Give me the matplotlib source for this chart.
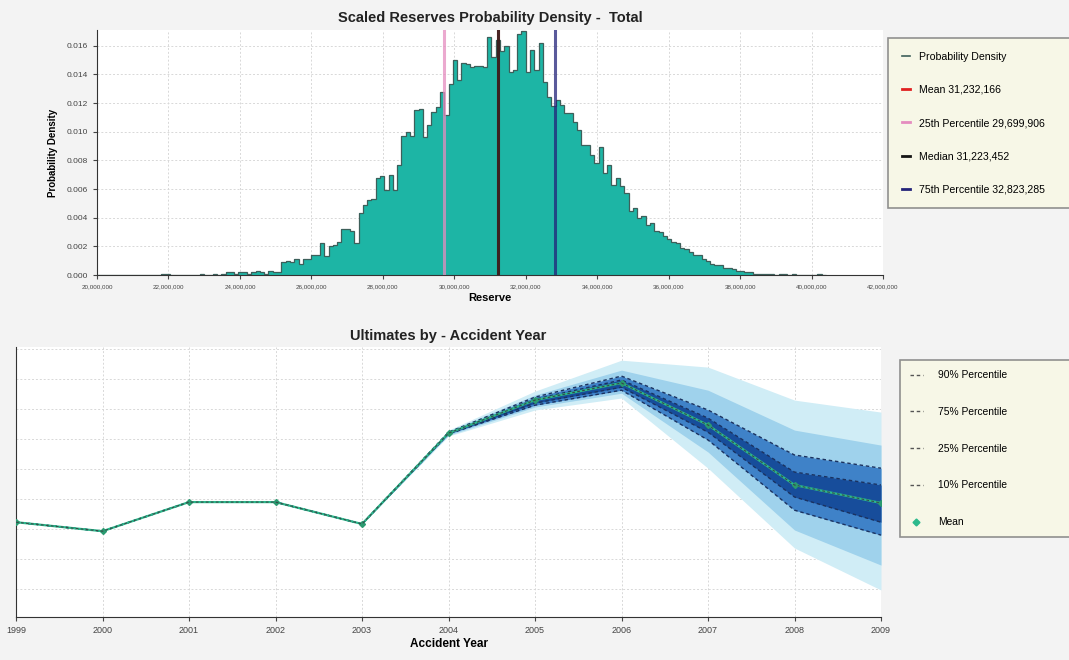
import numpy as np
import matplotlib
matplotlib.use("Agg")
import matplotlib.pyplot as plt
from matplotlib.lines import Line2D
from matplotlib.ticker import FuncFormatter

plt.rcParams['font.family'] = ['Liberation Sans', 'DejaVu Sans']

# ---- top chart data: reserve histogram (bins of 120,000 starting at 20,000,000)
bin_start = 20_000_000
bin_width = 120_000
density = [
    0, 0, 0, 0, 0, 0, 0, 0, 0, 0,
    0, 0, 0, 0, 0, 0.0001, 0.0001, 0, 0, 0,
    0, 0, 0, 0, 0.0001, 0, 0, 0.0001, 0, 0.0001,
    0.0002, 0.0002, 0.0001, 0.0002, 0.0002, 0.0001, 0.0002, 0.0003, 0.0002, 0.0001,
    0.0003, 0.0002, 0.0002, 0.0009, 0.0010, 0.0009, 0.0011, 0.0008, 0.0011, 0.0011,
    0.0014, 0.0014, 0.0022, 0.0013, 0.0020, 0.0021, 0.0023, 0.0032, 0.0032, 0.0031,
    0.0022, 0.0043, 0.0049, 0.0052, 0.0053, 0.0068, 0.0069, 0.0059, 0.0070, 0.0059,
    0.0077, 0.0097, 0.0100, 0.0097, 0.0115, 0.0116, 0.0096, 0.0105, 0.0114, 0.0117,
    0.0128, 0.0112, 0.0133, 0.0150, 0.0136, 0.0148, 0.0147, 0.0145, 0.0146, 0.0146,
    0.0145, 0.0166, 0.0152, 0.0164, 0.0156, 0.0160, 0.0142, 0.0143, 0.0168, 0.0170,
    0.0142, 0.0157, 0.0143, 0.0162, 0.0135, 0.0124, 0.0118, 0.0122, 0.0119, 0.0113,
    0.0113, 0.0107, 0.0101, 0.0091, 0.0091, 0.0084, 0.0078, 0.0089, 0.0071, 0.0077,
    0.0063, 0.0068, 0.0062, 0.0057, 0.0045, 0.0047, 0.0040, 0.0041, 0.0035, 0.0036,
    0.0031, 0.0030, 0.0027, 0.0025, 0.0023, 0.0022, 0.0019, 0.0018, 0.0016, 0.0014,
    0.0014, 0.0011, 0.0010, 0.0008, 0.0007, 0.0007, 0.0005, 0.0005, 0.0004, 0.0003,
    0.0003, 0.0002, 0.0002, 0.0001, 0.0001, 0.0001, 0.0001, 0.0001, 0.0000, 0.0001,
    0.0001, 0.0000, 0.0001, 0, 0, 0, 0, 0, 0.0001, 0,
]
stat_names = ["Mean", "25th Percentile", "Median", "75th Percentile"]
stat_values = [31_232_166, 29_699_906, 31_223_452, 32_823_285]
stat_colors = ["#e02020", "#e58cbf", "#151515", "#23237a"]

# ---- bottom chart data: ultimates by accident year (axis units, labels not shown)
years = [1999, 2000, 2001, 2002, 2003, 2004, 2005, 2006, 2007, 2008, 2009]
mean_ult = [3.23, 2.93, 3.90, 3.90, 3.17, 6.20, 7.30, 7.87, 6.47, 4.47, 3.87]
p01 = [3.23, 2.93, 3.90, 3.90, 3.17, 6.10, 6.97, 7.37, 5.03, 2.37, 0.97]
p05 = [3.23, 2.93, 3.90, 3.90, 3.17, 6.13, 7.07, 7.53, 5.57, 2.97, 1.80]
p10 = [3.23, 2.93, 3.90, 3.90, 3.17, 6.17, 7.13, 7.63, 5.97, 3.63, 2.80]
p25 = [3.23, 2.93, 3.90, 3.90, 3.17, 6.18, 7.20, 7.73, 6.23, 4.07, 3.23]
p75 = [3.23, 2.93, 3.90, 3.90, 3.17, 6.22, 7.33, 7.97, 6.70, 4.90, 4.47]
p90 = [3.23, 2.93, 3.90, 3.90, 3.17, 6.23, 7.40, 8.10, 6.97, 5.47, 5.03]
p95 = [3.23, 2.93, 3.90, 3.90, 3.17, 6.27, 7.47, 8.30, 7.63, 6.30, 5.80]
p99 = [3.23, 2.93, 3.90, 3.90, 3.17, 6.30, 7.60, 8.63, 8.40, 7.30, 6.90]

W, H = 1069, 660
fig = plt.figure(figsize=(W / 100, H / 100), dpi=100, facecolor="#f3f3f3")

def frac(x0, y0, x1, y1):
    # pixel box -> figure fraction rect
    return [x0 / W, 1 - y1 / H, (x1 - x0) / W, (y1 - y0) / H]

# ================= top: probability density =================
ax1 = fig.add_axes(frac(97, 30, 883, 275))
ax1.set_facecolor("white")
edges = bin_start + bin_width * np.arange(len(density) + 1)
ax1.stairs(density, edges, fill=True, color="#1db5a5", zorder=2)
ax1.stairs(density, edges, color="#3d5f5a", lw=0.9, zorder=3)
for v, c in zip(stat_values, stat_colors):
    ax1.axvline(v, color=c, lw=2.2, alpha=0.75, zorder=4)

ax1.set_xlim(20_000_000, 42_000_000)
ax1.set_ylim(0, 0.0171)
ax1.set_xticks(np.arange(20_000_000, 42_000_001, 2_000_000))
ax1.set_yticks(np.arange(0, 0.0161, 0.002))
ax1.xaxis.set_major_formatter(FuncFormatter(lambda v, p: f"{v:,.0f}"))
ax1.yaxis.set_major_formatter(FuncFormatter(lambda v, p: f"{v:.3f}"))
ax1.tick_params(axis="x", labelsize=4.5, length=3, colors="#444444")
ax1.tick_params(axis="y", labelsize=6, length=3, colors="#444444")
ax1.grid(True, color="#d8d8d8", ls=(0, (2, 2)), lw=0.7, zorder=0)
ax1.set_axisbelow(True)
for s in ["top", "right"]:
    ax1.spines[s].set_visible(False)
for s in ["left", "bottom"]:
    ax1.spines[s].set_color("#333333")
ax1.set_title("Scaled Reserves Probability Density -  Total", fontsize=10.5,
              fontweight="bold", color="#222222", pad=6)
ax1.set_xlabel("Reserve", fontsize=8, fontweight="bold", labelpad=3)
ax1.set_ylabel("Probability Density", fontsize=7, fontweight="bold", labelpad=6)

top_handles = [Line2D([], [], color="#3d5f5a", lw=1.2)] + \
    [Line2D([], [], color=c, lw=2) for c in stat_colors]
top_labels = ["Probability Density"] + \
    [f"{n} {v:,}" for n, v in zip(stat_names, stat_values)]
leg1 = fig.legend(top_handles, top_labels, loc="upper left",
                  bbox_to_anchor=(888 / W, 1 - 205 / H, 195 / W, 167 / H),
                  mode="expand", fontsize=7.6,
                  frameon=True, fancybox=False, facecolor="#f9f9e4",
                  edgecolor="#777777", labelspacing=2.2, handlelength=0.8,
                  handletextpad=0.8, borderpad=1.3, borderaxespad=0)
leg1.get_frame().set_linewidth(1.2)

# ================= bottom: ultimates fan chart =================
ax2 = fig.add_axes(frac(16, 347, 881, 617))
ax2.set_facecolor("white")
ax2.fill_between(years, p01, p99, color="#d0edf6", lw=0, zorder=1)
ax2.fill_between(years, p05, p95, color="#9fd2ec", lw=0, zorder=2)
ax2.fill_between(years, p10, p90, color="#3f82c8", lw=0, zorder=3)
ax2.fill_between(years, p25, p75, color="#174d9b", lw=0, zorder=4)
for p in [p90, p75, p25, p10]:
    ax2.plot(years, p, color="#1b3260", lw=1.0, ls=(0, (2.5, 2)), zorder=5)
ax2.plot(years, mean_ult, color="#2cb98c", lw=1.6, marker="D", ms=3,
         mfc="#2a9a70", mec="#2a9a70", zorder=6)
ax2.plot(years, mean_ult, color="#374a48", lw=0.8, ls=(0, (2.5, 2)), zorder=7)

ax2.set_xlim(1999, 2009)
ax2.set_ylim(0.07, 9.07)
ax2.set_xticks(years)
ax2.set_yticks(range(1, 10))
ax2.set_yticklabels([])
ax2.tick_params(axis="x", labelsize=6.5, length=3, colors="#444444")
ax2.tick_params(axis="y", length=0)
ax2.grid(True, color="#d8d8d8", ls=(0, (2, 2)), lw=0.7, zorder=0)
ax2.set_axisbelow(True)
for s in ["top", "right"]:
    ax2.spines[s].set_visible(False)
for s in ["left", "bottom"]:
    ax2.spines[s].set_color("#333333")
ax2.set_title("Ultimates by - Accident Year", fontsize=10.5, fontweight="bold",
              color="#222222", pad=5)
ax2.set_xlabel("Accident Year", fontsize=8.5, fontweight="bold", labelpad=2)

bot_handles = [Line2D([], [], color="#555555", lw=1, ls=(0, (2.5, 2)))
               for _ in range(4)] + \
    [Line2D([], [], color="none", marker="D", ms=3.5, mfc="#2cb98c", mec="#2cb98c")]
bot_labels = ["90% Percentile", "75% Percentile", "25% Percentile",
              "10% Percentile", "Mean"]
leg2 = fig.legend(bot_handles, bot_labels, loc="upper left",
                  bbox_to_anchor=(900 / W, 1 - 538 / H, 180 / W, 178 / H),
                  mode="expand", fontsize=7.4,
                  frameon=True, fancybox=False, facecolor="#f9f9e4",
                  edgecolor="#777777", labelspacing=2.6, handlelength=1.2,
                  handletextpad=1.5, borderpad=1.0, borderaxespad=0)
leg2.get_frame().set_linewidth(1.2)

fig.savefig("out.png", dpi=100, facecolor=fig.get_facecolor())
